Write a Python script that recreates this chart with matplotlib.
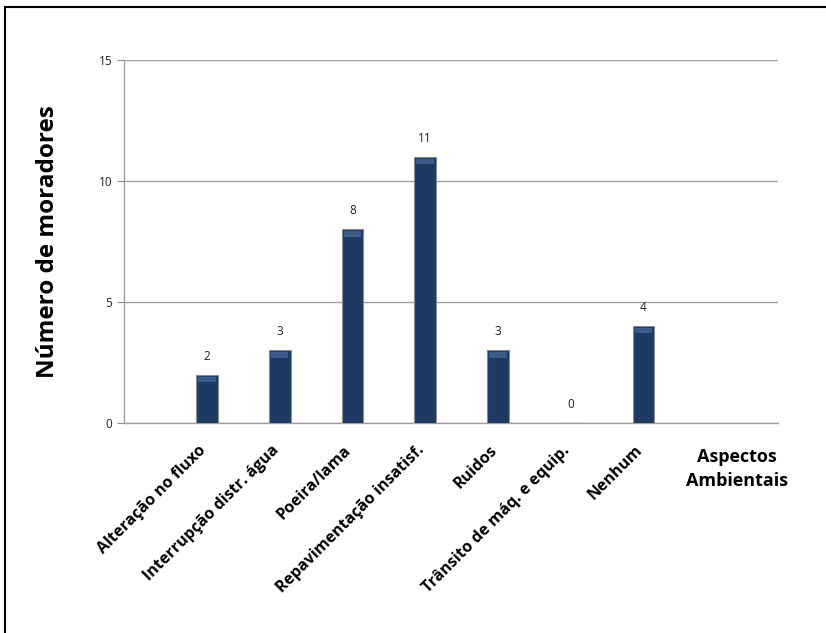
import numpy as np
import matplotlib.pyplot as plt
import matplotlib.transforms as mtransforms
from matplotlib.lines import Line2D

categorias = ['Alteração no fluxo', 'Interrupção distr. água', 'Poeira/lama',
              'Repavimentação insatisf.', 'Ruidos', 'Trânsito de máq. e equip.', 'Nenhum']
moradores = [2, 3, 8, 11, 3, 0, 4]
yticks = [0, 5, 10, 15]

plt.rcParams['font.family'] = ['Open Sans', 'DejaVu Sans']

fig = plt.figure(figsize=(8.26, 6.33), dpi=100)
ax = fig.add_axes([124 / 826, 1 - 423 / 633, 654 / 826, 363 / 633])

x = np.arange(len(categorias))
bars = ax.bar(x, moradores, width=0.30, color='#1d3a64', edgecolor='#8c8c8c', linewidth=0.8, zorder=3)
# brilho no topo das barras
for b, v in zip(bars, moradores):
    if v > 0:
        ax.bar(b.get_x() + b.get_width() / 2, 0.22, bottom=v - 0.3, width=0.24,
               color='#3b5b8a', linewidth=0, zorder=4)
for xi, v in zip(x, moradores):
    ax.text(xi, v + 0.5, str(v), ha='center', va='bottom', fontsize=8.5, color='#222222')

ax.set_xlim(-1.14, 7.85)
ax.set_ylim(0, 15)
ax.set_yticks(yticks)
ax.tick_params(axis='y', labelsize=8.5, colors='#222222', length=5, color='#8c8c8c')
ax.yaxis.grid(True, color='#a0a0a0', linewidth=1)
ax.set_axisbelow(True)
for s in ['top', 'right']:
    ax.spines[s].set_visible(False)
for s in ['left', 'bottom']:
    ax.spines[s].set_color('#a0a0a0')
    ax.spines[s].set_linewidth(1)

ax.set_xticks(x)
ax.set_xticklabels(categorias, rotation=45, ha='right', rotation_mode='anchor',
                   fontsize=11.5, fontweight='bold')
ax.tick_params(axis='x', length=0, pad=14)
offset = mtransforms.ScaledTranslation(-9 / 100, 0, fig.dpi_scale_trans)
for lbl in ax.get_xticklabels():
    lbl.set_transform(lbl.get_transform() + offset)

ax.set_ylabel('Número de moradores', fontsize=17.5, fontweight='bold', labelpad=28)
ax.text(7.28, -1.9, 'Aspectos\nAmbientais', ha='center', va='center',
        fontsize=13, fontweight='bold', linespacing=1.45)

# moldura
fig.add_artist(Line2D([5 / 826, 5 / 826], [0, 1 - 7 / 633], color='black', linewidth=1.5))
fig.add_artist(Line2D([5 / 826, 1], [1 - 7 / 633, 1 - 7 / 633], color='black', linewidth=1.5))

fig.savefig('out.png', dpi=100)
